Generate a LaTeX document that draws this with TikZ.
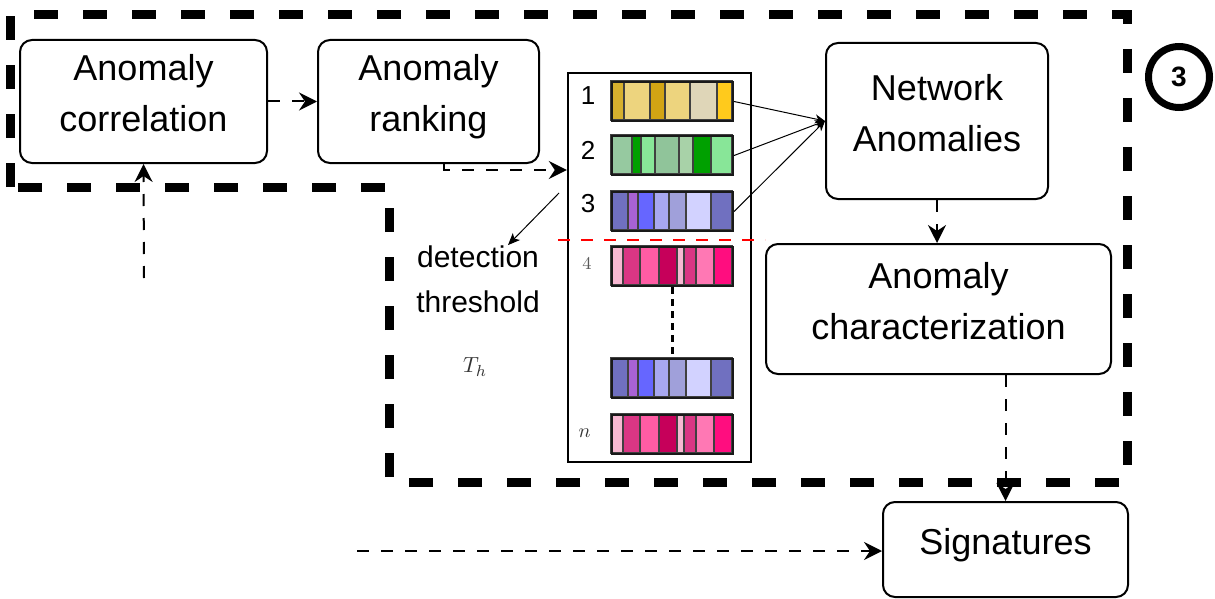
\documentclass[tikz,border=0pt]{standalone}
\usepackage{fontspec}
\setmainfont{Liberation Sans}
\usepackage{tikz}
\usetikzlibrary{positioning}
\usetikzlibrary{arrows.meta}
\usetikzlibrary{backgrounds}
\usepackage{xcolor}

% segment colours of the ranked anomalies
\definecolor{goldA}{HTML}{D6B02E}
\definecolor{goldB}{HTML}{EDD47E}
\definecolor{goldC}{HTML}{D2A414}
\definecolor{goldD}{HTML}{DFD6B8}
\definecolor{goldE}{HTML}{FFCA1C}
\definecolor{grnA}{HTML}{96C9A0}
\definecolor{grnB}{HTML}{00A000}
\definecolor{grnC}{HTML}{88E698}
\definecolor{grnD}{HTML}{90C49A}
\definecolor{grnE}{HTML}{A8D2A8}
\definecolor{bluA}{HTML}{7070C0}
\definecolor{bluB}{HTML}{A862D4}
\definecolor{bluC}{HTML}{6666FF}
\definecolor{bluD}{HTML}{A8A8F0}
\definecolor{bluE}{HTML}{A0A0DA}
\definecolor{bluF}{HTML}{D2D2FF}
\definecolor{pnkA}{HTML}{F8B8D2}
\definecolor{pnkB}{HTML}{DA3684}
\definecolor{pnkC}{HTML}{FF5CA4}
\definecolor{pnkD}{HTML}{C6005A}
\definecolor{pnkE}{HTML}{FF78B4}
\definecolor{pnkF}{HTML}{FF0D7F}

\begin{document}
\begin{tikzpicture}[x=0.5pt, y=-0.5pt,
		% styles
		block/.style={draw, line width=1pt, rounded corners=6pt, align=center, inner sep=2pt, font=\fontsize{18}{25.5}\selectfont, execute at end node={\rule[-8.5pt]{0pt}{0pt}}},
		listbox/.style={draw, line width=1.2pt, minimum width=91.5pt, minimum height=194.5pt, inner sep=0pt},
		bar/.style={draw=black!90, line width=1.1pt, minimum width=60.5pt, minimum height=19.5pt, inner sep=0pt},
		seg/.style={draw=black!75, line width=0.7pt},
		idx/.style={inner sep=0pt, font=\fontsize{13}{15}\selectfont},
		stage/.style={line width=4.5pt, dash pattern=on 12pt off 12.5pt},
		darrow/.style={-{Stealth[length=9pt, width=9pt, inset=3pt]}, line width=1pt, dash pattern=on 6pt off 6pt},
		link/.style={-{Stealth[length=5pt, width=4.5pt, inset=1.5pt]}, line width=0.5pt},
		]
		\useasboundingbox (0,0) rectangle (1215,599);

		% stage outline
		\draw[stage] (10,187) -- (10,15) -- (1127,15) -- (1127,482) -- (389,482) -- (389,187) -- cycle;
		\node[draw, circle, line width=3.5pt, minimum size=30.5pt, inner sep=0pt, font=\bfseries\fontsize{14}{16}\selectfont] (stage3) at (1179,77) {3};

		% processing blocks
		\node[block, minimum width=123.5pt, minimum height=61.5pt] (corr) at (143.5,101.5) {Anomaly\\correlation};
		\node[block, minimum width=110.5pt, minimum height=61.5pt, right=24.5pt of corr] (ranking) {Anomaly\\ranking};
		\node[block, minimum width=111pt, minimum height=78pt] (netw) at (937,121) {Network\\Anomalies};
		\node[block, minimum width=172.5pt, minimum height=65pt] (charz) at (938.5,309) {Anomaly\\characterization};
		\node[block, minimum width=122.5pt, minimum height=47.5pt] (sign) at (1005.5,549.5) {Signatures};

		% ranked list
		\node[listbox] (list) at (659.5,267.5) {};
		\node[bar] (bar1) at (672.5,101.5) {};
		\node[bar] (bar2) at (672.5,155.5) {};
		\node[bar] (bar3) at (672.5,211.5) {};
		\node[bar] (bar4) at (672.5,266.5) {};
		\node[bar] (bar5) at (672.5,378.5) {};
		\node[bar] (barn) at (672.5,434.5) {};
		\node[idx] (idx1) at (588,95.5) {1};
		\node[idx] (idx2) at (588,150.5) {2};
		\node[idx] (idx3) at (588,204) {3};
		\node[inner sep=0pt, text=black!65, font=\fontsize{9}{10}\selectfont] (idx4) at (587,264) {$4$};
		\node[inner sep=0pt, text=black!80, font=\fontsize{10}{11}\selectfont] (idxn) at (584.5,433) {$n$};

		\begin{scope}[on background layer, shift={(bar1.north west)}]
			\foreach \a/\b/\c in {0/13/goldA, 13/39/goldB, 39/54/goldC, 54/79/goldB, 79/106/goldD, 106/121/goldE}
				\filldraw[seg, fill=\c] (\a,0) rectangle (\b,39);
		\end{scope}
		\begin{scope}[on background layer, shift={(bar2.north west)}]
			\foreach \a/\b/\c in {0/21/grnA, 21/30/grnB, 30/44/grnC, 44/68/grnD, 68/82/grnE, 82/100/grnB, 100/121/grnC}
				\filldraw[seg, fill=\c] (\a,0) rectangle (\b,39);
		\end{scope}
		\foreach \r in {bar3, bar5} {
			\begin{scope}[on background layer, shift={(\r.north west)}]
				\foreach \a/\b/\c in {0/17/bluA, 17/27/bluB, 27/43/bluC, 43/58/bluD, 58/75/bluE, 75/100/bluF, 100/121/bluA}
					\filldraw[seg, fill=\c] (\a,0) rectangle (\b,39);
			\end{scope}
		}
		\foreach \r in {bar4, barn} {
			\begin{scope}[on background layer, shift={(\r.north west)}]
				\foreach \a/\b/\c in {0/12/pnkA, 12/29/pnkB, 29/48/pnkC, 48/66/pnkD, 66/73/pnkA, 73/85/pnkB, 85/103/pnkE, 103/121/pnkF}
					\filldraw[seg, fill=\c] (\a,0) rectangle (\b,39);
			\end{scope}
		}

		% detection threshold
		\draw[red, line width=1pt, dash pattern=on 6pt off 5.5pt] (558,240) -- (765,240);
		\draw[line width=1.3pt, dash pattern=on 3.5pt off 2.5pt] (bar4.south) -- (bar5.north);
		\node[inner sep=0pt, align=center, font=\fontsize{15}{22.5}\selectfont] (detect) at (478,279) {detection\\threshold};
		\node[inner sep=0pt, text=black!80, font=\fontsize{11}{13}\selectfont] (th) at (475,367) {$T_h$};
		\coordinate (thr) at (559,193);
		\draw[link, -{Stealth[length=6pt, width=5pt, inset=1.5pt]}] (thr) -- ([xshift=15pt]detect.north);

		% flow arrows
		\coordinate (fb) at (144,278);
		\coordinate (rk) at (444,170);
		\coordinate (sigin) at (357,551);
		\draw[darrow] (fb) -- (corr.south);
		\draw[darrow] (corr) -- (ranking);
		\draw[darrow] (ranking.south -| rk) -- (rk) -- (rk -| list.west);
		\draw[link] (bar1.east) -- (netw.west);
		\draw[link] (bar2.east) -- (netw.west);
		\draw[link] (bar3.east) -- (netw.west);
		\draw[darrow] (netw.south) -- (netw.south |- charz.north);
		\draw[darrow] (sign.north |- charz.south) -- (sign.north);
		\draw[darrow] (sigin) -- (sigin -| sign.west);

	\end{tikzpicture}
\end{document}
